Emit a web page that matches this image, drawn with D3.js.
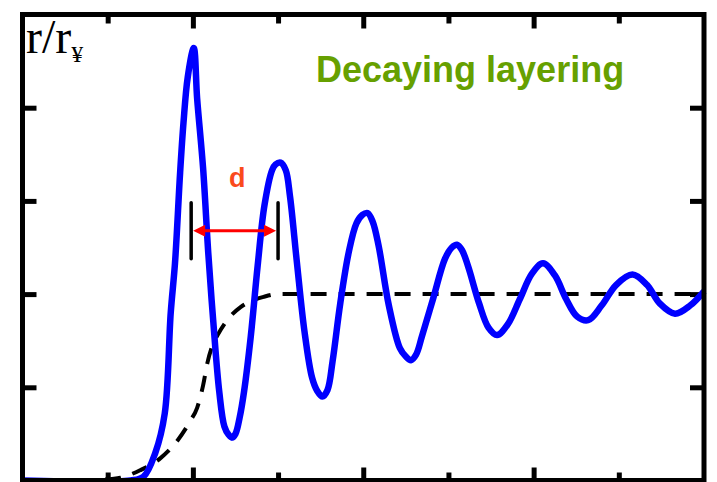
<!DOCTYPE html>
<html>
<head>
<meta charset="utf-8">
<script src="https://cdn.jsdelivr.net/npm/d3@7.9.0/dist/d3.min.js"></script>
<style>
  html, body { margin: 0; padding: 0; background: #ffffff; }
  svg { display: block; }
</style>
</head>
<body>
<svg id="chart"></svg>
<script>
// Density profile (blue)
const rX = [0, 1.27, 1.42, 1.56, 1.67, 1.74, 1.79, 1.85, 1.89, 1.94, 2.01, 2.05, 2.12, 2.18, 2.24, 2.31, 2.37, 2.42, 2.46,
            2.50, 2.55, 2.60, 2.68, 2.76, 2.84, 2.93, 2.97, 3.03, 3.09, 3.14, 3.22, 3.31, 3.40, 3.46, 3.52, 3.58, 3.64,
            3.73, 3.83, 3.92, 3.99, 4.05, 4.11, 4.18, 4.30, 4.43, 4.50, 4.56, 4.62, 4.69, 4.82, 4.96, 5.04, 5.10, 5.16,
            5.23, 5.36, 5.47, 5.57, 5.70, 5.84, 5.98, 6.11, 6.25, 6.38, 6.51, 6.64, 6.80, 6.97, 7.16, 7.33, 7.48,
            7.66, 7.84, 8.00];
const rY = [0, 0, 0.04, 0.30, 0.72, 1.80, 2.33, 3.30, 3.84, 4.33, 4.64, 4.10, 3.35, 2.45, 1.70, 0.95, 0.58, 0.49, 0.46,
            0.50, 0.68, 0.95, 1.55, 2.30, 2.95, 3.33, 3.39, 3.41, 3.33, 3.05, 2.35, 1.60, 1.10, 0.96, 0.90, 0.97, 1.28,
            1.90, 2.45, 2.76, 2.85, 2.87, 2.78, 2.52, 1.88, 1.42, 1.33, 1.29, 1.35, 1.55, 1.95, 2.38, 2.50, 2.53, 2.47,
            2.30, 1.90, 1.64, 1.56, 1.68, 1.95, 2.22, 2.33, 2.20, 1.95, 1.76, 1.72, 1.88, 2.10, 2.21, 2.10, 1.90,
            1.79, 1.88, 2.03];

// Smooth reference profile (dashed)
const bulkX = [0.97, 1.15, 1.38, 1.62, 1.82, 1.97, 2.05, 2.12, 2.17, 2.23, 2.29, 2.42, 2.56, 2.70, 2.83, 3.00, 8.00];
const bulkY = [0.01, 0.03, 0.11, 0.24, 0.43, 0.64, 0.78, 1.02, 1.26, 1.45, 1.56, 1.74, 1.86, 1.93, 1.97, 2.00, 2.00];

const xTicks = [1, 2, 3, 4, 5, 6, 7];
const yTicks = [1, 2, 3, 4];

const width = 717, height = 482;
const frame = { left: 22.5, right: 704, top: 14.5, bottom: 480.5 };

const svg = d3.select("#chart")
    .attr("width", width)
    .attr("height", height);

const x = d3.scaleLinear().domain([0, 8]).range([frame.left, frame.right]);
const y = d3.scaleLinear().domain([0, 5]).range([frame.bottom, frame.top]);

// Ticks: odd x ticks short, even x ticks long
function tickAxis(axis, vals, size, transform) {
    const g = svg.append("g")
        .attr("transform", transform)
        .call(axis.tickValues(vals).tickSize(-size).tickFormat(""));
    g.select(".domain").remove();
    g.selectAll("line").attr("stroke", "#000").attr("stroke-width", 5);
}
const odd = xTicks.filter(d => d % 2 === 1), even = xTicks.filter(d => d % 2 === 0);
tickAxis(d3.axisTop(x), odd, 9, `translate(0,${frame.top})`);
tickAxis(d3.axisTop(x), even, 14, `translate(0,${frame.top})`);
tickAxis(d3.axisBottom(x), odd, 8, `translate(0,${frame.bottom})`);
tickAxis(d3.axisBottom(x), even, 13, `translate(0,${frame.bottom})`);
tickAxis(d3.axisLeft(y), yTicks, 14, `translate(${frame.left},0)`);
tickAxis(d3.axisRight(y), yTicks, 14, `translate(${frame.right},0)`);

// Dashed bulk line
const bulk = bulkX.map((d, i) => [d, bulkY[i]]);
svg.append("path")
    .datum(bulk)
    .attr("fill", "none")
    .attr("stroke", "#000")
    .attr("stroke-width", 4)
    .attr("stroke-dasharray", "16,12")
    .attr("d", d3.line().x(d => x(d[0])).y(d => y(d[1])).curve(d3.curveMonotoneX));

// Blue profile
const prof = rX.map((d, i) => [d, rY[i]]);
svg.append("path")
    .datum(prof)
    .attr("fill", "none")
    .attr("stroke", "#0000ff")
    .attr("stroke-width", 6.5)
    .attr("d", d3.line().x(d => x(d[0])).y(d => y(d[1])).curve(d3.curveCatmullRom.alpha(0.5)));

// Frame
svg.append("rect")
    .attr("x", frame.left)
    .attr("y", frame.top)
    .attr("width", frame.right - frame.left)
    .attr("height", frame.bottom - frame.top)
    .attr("fill", "none")
    .attr("stroke", "#000")
    .attr("stroke-width", 5);

// Layer spacing annotation
const barX = [1.98, 3.0], barY = [2.38, 2.98], arrowY = 2.68;
svg.selectAll(".bar")
    .data(barX)
    .enter()
    .append("line")
    .attr("x1", d => x(d)).attr("x2", d => x(d))
    .attr("y1", y(barY[0])).attr("y2", y(barY[1]))
    .attr("stroke", "#000")
    .attr("stroke-width", 3.5)
    .attr("stroke-linecap", "round");

const ax0 = x(barX[0]) + 2, ax1 = x(barX[1]) - 2, ay = y(arrowY);
svg.append("line")
    .attr("x1", ax0 + 8).attr("x2", ax1 - 8)
    .attr("y1", ay).attr("y2", ay)
    .attr("stroke", "#ff0000")
    .attr("stroke-width", 3);
svg.append("path")
    .attr("d", `M${ax0},${ay} L${ax0 + 12},${ay - 6} L${ax0 + 12},${ay + 6} Z M${ax1},${ay} L${ax1 - 12},${ay - 6} L${ax1 - 12},${ay + 6} Z`)
    .attr("fill", "#ff0000");

svg.append("text")
    .attr("x", x(2.52))
    .attr("y", 187)
    .attr("text-anchor", "middle")
    .style("font-family", "'Liberation Sans', Arial, sans-serif")
    .style("font-weight", "bold")
    .style("font-size", "27px")
    .attr("fill", "#fa4a1c")
    .text("d");

// Title
svg.append("text")
    .attr("x", 316)
    .attr("y", 82)
    .style("font-family", "'Liberation Sans', Arial, sans-serif")
    .style("font-weight", "bold")
    .style("font-size", "36px")
    .attr("fill", "#66a000")
    .text("Decaying layering");

// Axis label
const lab = svg.append("text")
    .attr("x", 26)
    .attr("y", 53)
    .style("font-family", "'Liberation Serif', 'Times New Roman', serif")
    .style("font-size", "48px")
    .attr("fill", "#000");
lab.append("tspan").text("r/r");
lab.append("tspan")
    .attr("dy", 9)
    .style("font-size", "24px")
    .text("¥");
</script>
</body>
</html>
